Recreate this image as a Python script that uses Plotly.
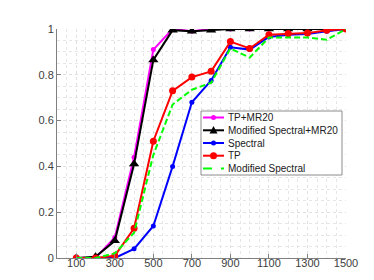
import plotly.graph_objects as go

x_vals = [100, 200, 300, 400, 500, 600, 700, 800, 900, 1000, 1100, 1200, 1300, 1400, 1500]

tp_mr20 = [0, 0, 0.09, 0.44, 0.91, 1.0, 0.99, 1.0, 1.0, 1.0, 1.0, 1.0, 1.0, 1.0, 1.0]
mod_spec_mr20 = [0, 0.005, 0.075, 0.41, 0.865, 0.995, 0.99, 0.995, 1.0, 1.0, 1.0, 1.0, 1.0, 1.0, 1.0]
spectral = [0, 0, 0, 0.04, 0.14, 0.40, 0.68, 0.775, 0.92, 0.91, 0.965, 0.975, 0.978, 0.99, 1.0]
tp = [0, 0, 0.01, 0.13, 0.51, 0.73, 0.79, 0.815, 0.945, 0.915, 0.975, 0.98, 0.982, 0.995, 1.0]
mod_spec = [0, 0, 0.02, 0.11, 0.45, 0.67, 0.735, 0.765, 0.915, 0.875, 0.963, 0.963, 0.963, 0.953, 1.0]

x_ticks = [100, 300, 500, 700, 900, 1100, 1300, 1500]
y_ticks = [0, 0.2, 0.4, 0.6, 0.8, 1]

names = ["TP+MR20", "Modified Spectral+MR20", "Spectral", "TP", "Modified Spectral"]
colors = ["#ff00ff", "#000000", "#0000ff", "#ff0000", "#00ff00"]
symbols = ["circle", "triangle-up", "circle", "circle", None]
msizes = [5, 9, 5, 7, 0]
dashes = ["solid", "solid", "solid", "solid", "6px,3px"]
series = [tp_mr20, mod_spec_mr20, spectral, tp, mod_spec]

W, H = 374, 280
ML, MR, MT, MB = 49, 36, 21, 30
PW, PH = W - ML - MR, H - MT - MB

def px_x(p):
    return (p - ML) / PW

def px_y(p):
    return (H - MB - p) / PH

fig = go.Figure()
for nm, col, sym, ms, ds, ys in zip(names, colors, symbols, msizes, dashes, series):
    if sym is None:
        fig.add_trace(go.Scatter(x=x_vals, y=ys, name=nm, mode="lines",
                                 line=dict(color=col, width=2, dash=ds)))
    else:
        fig.add_trace(go.Scatter(x=x_vals, y=ys, name=nm, mode="lines+markers",
                                 line=dict(color=col, width=2, dash=ds),
                                 marker=dict(symbol=sym, size=ms, color=col)))

axis_common = dict(
    showline=True, linecolor="#808080", linewidth=1,
    ticks="inside", ticklen=4, tickcolor="#808080",
    showgrid=True, gridcolor="#e0e0e0", griddash="dot", gridwidth=1,
    zeroline=False, tickfont=dict(family="Liberation Sans, Arial, sans-serif", size=11, color="#404040"),
)

fig.update_xaxes(range=[0, 1500], tickvals=x_ticks, ticklabelstandoff=-5,
                 minor=dict(dtick=50, tick0=0, showgrid=True, gridcolor="#e6e6e6", griddash="dot", ticks=""),
                 **axis_common)
fig.update_yaxes(range=[0, 1], tickvals=y_ticks,
                 minor=dict(dtick=0.05, tick0=0, showgrid=True, gridcolor="#e6e6e6", griddash="dot", ticks=""),
                 **axis_common)

# Manual compact legend (MATLAB style)
shapes = []
annotations = []
box_l, box_r, box_t, box_b = 193, 334, 103, 167
shapes.append(dict(type="rect", xref="paper", yref="paper",
                   x0=px_x(box_l), x1=px_x(box_r), y0=px_y(box_b), y1=px_y(box_t),
                   fillcolor="white", line=dict(color="#8c8c8c", width=1), layer="above"))
row_y = [109.5, 122.3, 135.0, 147.7, 160.4]
s_l, s_r = 195, 216
for i, (nm, col, sym, ms, ds) in enumerate(zip(names, colors, symbols, msizes, dashes)):
    yy = row_y[i]
    shapes.append(dict(type="line", xref="paper", yref="paper",
                       x0=px_x(s_l), x1=px_x(s_r), y0=px_y(yy), y1=px_y(yy),
                       line=dict(color=col, width=2, dash="dash" if sym is None else "solid"),
                       layer="above"))
    cx = (s_l + s_r) / 2
    if sym == "circle":
        r = ms / 2
        shapes.append(dict(type="circle", xref="paper", yref="paper",
                           x0=px_x(cx - r), x1=px_x(cx + r), y0=px_y(yy + r), y1=px_y(yy - r),
                           fillcolor=col, line=dict(color=col, width=0), layer="above"))
    elif sym == "triangle-up":
        h = 4
        path = "M {} {} L {} {} L {} {} Z".format(
            px_x(cx - h), px_y(yy + h * 0.8), px_x(cx + h), px_y(yy + h * 0.8), px_x(cx), px_y(yy - h * 1.1))
        shapes.append(dict(type="path", xref="paper", yref="paper", path=path,
                           fillcolor=col, line=dict(color=col, width=0), layer="above"))
    annotations.append(dict(text=nm, xref="paper", yref="paper", x=px_x(217.5), y=px_y(yy),
                            xanchor="left", yanchor="middle", showarrow=False,
                            font=dict(family="Liberation Sans, Arial, sans-serif", size=10, color="#202020")))

fig.update_layout(
    width=W, height=H,
    margin=dict(l=ML, r=MR, t=MT, b=MB),
    plot_bgcolor="white", paper_bgcolor="white",
    showlegend=False,
    shapes=shapes, annotations=annotations,
)

fig.write_html("out.html")
